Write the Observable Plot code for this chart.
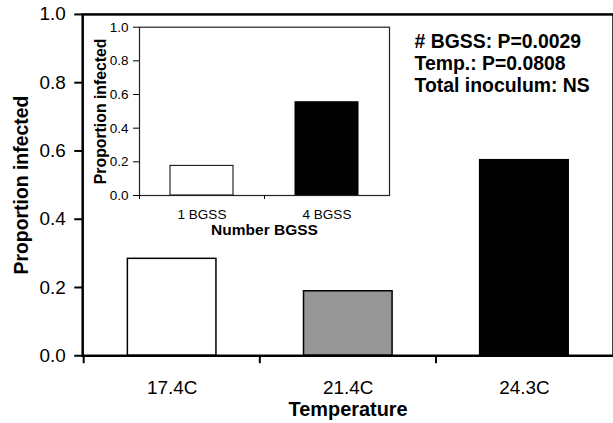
<!DOCTYPE html>
<html>
<head>
<meta charset="utf-8">
<script src="https://cdn.jsdelivr.net/npm/d3@7"></script>
<script src="https://cdn.jsdelivr.net/npm/@observablehq/plot@0.6"></script>
<style>
  html, body { margin: 0; padding: 0; background: #fff; overflow: hidden; }
  #wrap { position: relative; width: 613px; height: 423px; overflow: hidden; }
  #wrap svg { position: absolute; left: 0; top: 0; background: transparent; }
</style>
</head>
<body>
<div id="wrap"></div>
<script>
// ---- data ----
const temps = ["17.4C", "21.4C", "24.3C"];
const tempProp = [0.284, 0.189, 0.573];
const bgss = ["1 BGSS", "4 BGSS"];
const bgssProp = [0.176, 0.554];
const yTicks = [0, 0.2, 0.4, 0.6, 0.8, 1.0];
const annotation = ["# BGSS: P=0.0029", "Temp.: P=0.0808", "Total inoculum: NS"];

// ---- styles ----
const FONT = "'Liberation Sans', Arial, Helvetica, sans-serif";
const tempFills = ["white", "#969696", "black"];
const bgssFills = ["white", "black"];

const mainData = temps.map((t, i) => ({temp: t, prop: tempProp[i]}));
const insetData = bgss.map((b, i) => ({n: b, prop: bgssProp[i]}));

// ---- main chart ----
const W = 616, H = 423, mL = 82.6, mR = 0, mT = 14, mB = 66;
const step = (W - mL - mR) / temps.length;

const main = Plot.plot({
  width: W, height: H,
  marginLeft: mL, marginRight: mR, marginTop: mT, marginBottom: mB,
  style: {fontFamily: FONT, background: "transparent", color: "black"},
  x: {domain: temps, paddingInner: 0.5, paddingOuter: 0.25, label: null},
  y: {domain: [0, 1], label: null},
  color: {domain: temps, range: tempFills},
  marks: [
    Plot.barY(mainData, {x: "temp", y: "prop", fill: "temp", stroke: "black", strokeWidth: 1.5}),
    Plot.frame({stroke: "black", strokeWidth: 2.5}),
    Plot.axisY(yTicks, {tickSize: 8, tickPadding: 9, fontSize: 19, tickFormat: d3.format(".1f"), strokeWidth: 2, label: null}),
    Plot.axisX(temps, {tickSize: 8, tickFormat: () => "", dx: -step / 2, strokeWidth: 2, label: null}),
    Plot.axisX(temps, {tickSize: 0, tickPadding: 25, fontSize: 19, label: null}),
    Plot.text(["Proportion infected"], {frameAnchor: "left", text: d => d, rotate: -90, dx: -61, fontSize: 19.5, fontWeight: "bold", textAnchor: "middle", lineAnchor: "middle"}),
    Plot.text(["Temperature"], {frameAnchor: "bottom", text: d => d, dy: 54, fontSize: 20, fontWeight: "bold", textAnchor: "middle", lineAnchor: "middle"}),
    Plot.text([annotation.join("\n")], {frameAnchor: "top-left", text: d => d, dx: 333.5, dy: 18, fontSize: 19.5, fontWeight: "bold", textAnchor: "start", lineAnchor: "top", lineHeight: 1.13})
  ]
});

// ---- inset chart ----
const iW = 400, iH = 240, iL = 139, iR = 11, iT = 26.7, iB = 45;
const iStep = (iW - iL - iR) / bgss.length;

const inset = Plot.plot({
  width: iW, height: iH,
  marginLeft: iL, marginRight: iR, marginTop: iT, marginBottom: iB,
  style: {fontFamily: FONT, background: "transparent", color: "black"},
  x: {domain: bgss, paddingInner: 0.5, paddingOuter: 0.25, label: null},
  y: {domain: [0, 1], label: null},
  color: {domain: bgss, range: bgssFills},
  marks: [
    Plot.barY(insetData, {x: "n", y: "prop", fill: "n", stroke: "black", strokeWidth: 1}),
    Plot.frame({stroke: "#222", strokeWidth: 1.2}),
    Plot.axisY(yTicks, {tickSize: 6, tickPadding: 5, fontSize: 13.5, tickFormat: d3.format(".1f"), label: null}),
    Plot.axisX(bgss, {tickSize: 4, tickFormat: () => "", dx: -iStep / 2, label: null}),
    Plot.axisX(bgss, {tickSize: 0, tickPadding: 14, fontSize: 13.5, label: null}),
    Plot.text(["Proportion infected"], {frameAnchor: "left", text: d => d, rotate: -90, dx: -39, fontSize: 15.8, fontWeight: "bold", textAnchor: "middle", lineAnchor: "middle"}),
    Plot.text(["Number BGSS"], {frameAnchor: "bottom", text: d => d, dy: 35, fontSize: 15.5, fontWeight: "bold", textAnchor: "middle", lineAnchor: "middle"})
  ]
});

const wrap = document.getElementById("wrap");
wrap.appendChild(main);
wrap.appendChild(inset);
</script>
</body>
</html>
